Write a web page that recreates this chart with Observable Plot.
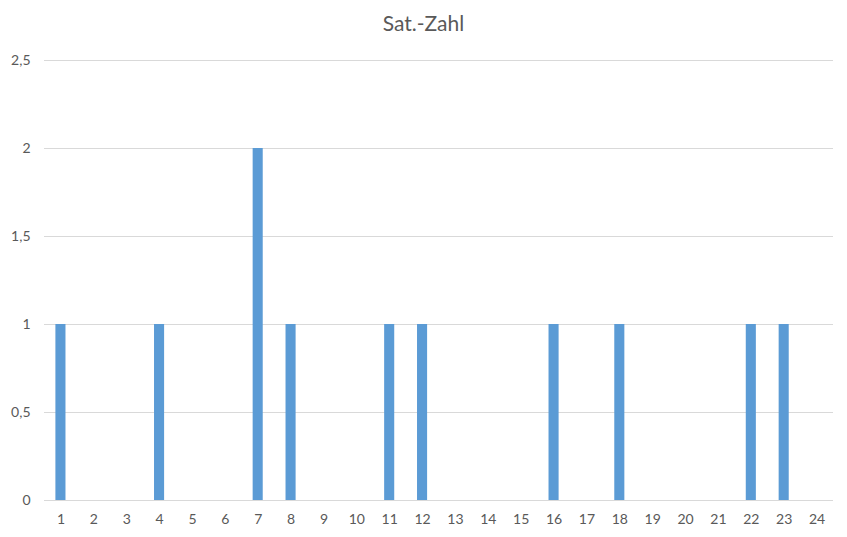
<!DOCTYPE html>
<html>
<head>
<meta charset="utf-8">
<script src="https://cdn.jsdelivr.net/npm/d3@7"></script>
<script src="https://cdn.jsdelivr.net/npm/@observablehq/plot@0.6"></script>
<style>
  body { margin: 0; background: #fff; }
  #title { width: 847px; height: 44px; line-height: 46px; text-align: center; font-family: Lato, "Open Sans", sans-serif; font-size: 21px; color: #595959; }
</style>
</head>
<body>
<div id="title">Sat.-Zahl</div>
<div id="chart"></div>
<script>
const categories = ["1","2","3","4","5","6","7","8","9","10","11","12","13","14","15","16","17","18","19","20","21","22","23","24"];
const values =     [1,0,0,1,0,0,2,1,0,0,1,1,0,0,0,1,0,1,0,0,0,1,1,0];
const yTicks = [0, 0.5, 1, 1.5, 2, 2.5];

const data = categories.map((c, i) => ({cat: c, v: values[i]}));

const chart = Plot.plot({
  width: 847,
  height: 493,
  marginLeft: 44,
  marginRight: 14,
  marginTop: 16,
  marginBottom: 37,
  style: {fontFamily: "Lato, 'Open Sans', sans-serif", fontSize: "14px", color: "#595959", background: "#fff"},
  x: {domain: categories, padding: 0, round: false, label: null, tickSize: 0, tickPadding: 14},
  y: {domain: [0, 2.5], ticks: yTicks, label: null, tickSize: 0, tickPadding: 14,
      tickFormat: d => String(d).replace(".", ",")},
  marks: [
    Plot.ruleY(yTicks, {stroke: "#d9d9d9", strokeWidth: 1}),
    Plot.barY(data, {x: "cat", y: "v", fill: "#5B9BD5", insetLeft: 11.4, insetRight: 11.4})
  ]
});
document.getElementById("chart").appendChild(chart);
</script>
</body>
</html>
